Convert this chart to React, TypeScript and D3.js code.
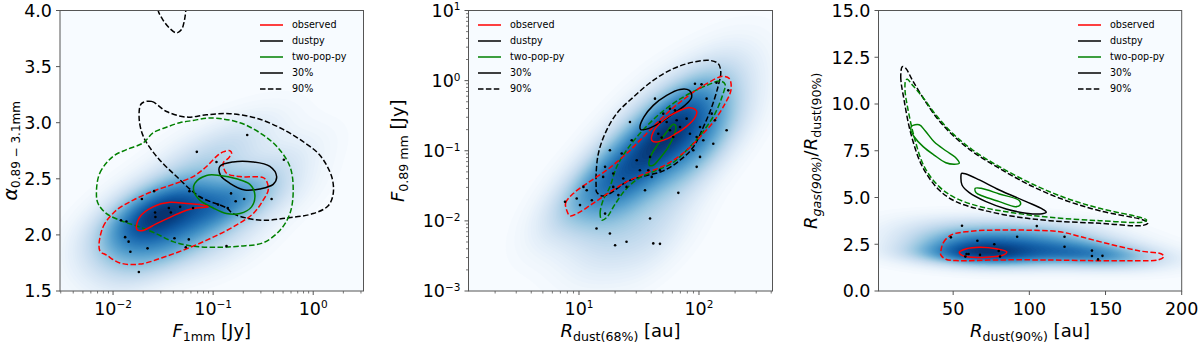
import { useMemo } from 'react';
import type { ReactNode } from 'react';
import * as d3 from 'd3';

type Pt = [number, number];

const FONT = "'DejaVu Sans', sans-serif";
const TOP = 10.5;
const BOTTOM = 291;

// legend entries, same in all three panels
const legendLabels = ['observed', 'dustpy', 'two-pop-py', '30%', '90%'];
const legendColors = ['red', 'black', 'green', 'black', 'black'];
const legendDashed = [false, false, false, false, true];

// ---------- left panel: spectral index vs F_1mm ----------
const alphaXTicks = [0.01, 0.1, 1];
const alphaYTicks = [1.5, 2.0, 2.5, 3.0, 3.5, 4.0];
const alphaPoints: Pt[] = [
  [0.0687, 2.74], [0.108, 2.65], [0.219, 2.89], [0.509, 2.67], [0.0257, 2.39],
  [0.0194, 2.32], [0.058, 2.39], [0.0361, 2.24], [0.0378, 2.2], [0.0263, 2.2],
  [0.0265, 2.16], [0.0468, 2.25], [0.063, 2.24], [0.151, 2.37], [0.168, 2.3],
  [0.204, 2.32], [0.384, 2.32], [0.112, 2.27], [0.14, 2.24], [0.012, 2.13],
  [0.0136, 2.12], [0.0132, 1.98], [0.0143, 1.94], [0.0149, 1.85], [0.0221, 1.88],
  [0.0411, 1.97], [0.0571, 1.96], [0.0533, 1.89], [0.136, 1.9], [0.0181, 1.67],
];
const alphaObs30: Pt[] = [
  [0.0171, 2.06], [0.0185, 2.16], [0.0251, 2.25], [0.0369, 2.29], [0.0542, 2.28],
  [0.0736, 2.27], [0.0891, 2.25], [0.0682, 2.24], [0.0542, 2.22], [0.0398, 2.17],
  [0.0272, 2.1], [0.02, 2.04], [0.0178, 2.04],
];
const alphaObs90: Pt[] = [
  [0.00736, 1.86], [0.00794, 2.07], [0.0108, 2.22], [0.0159, 2.31], [0.0251, 2.39],
  [0.0398, 2.45], [0.0631, 2.52], [0.0859, 2.61], [0.108, 2.7], [0.126, 2.74],
  [0.147, 2.75], [0.153, 2.73], [0.141, 2.68], [0.126, 2.64], [0.136, 2.55],
  [0.185, 2.52], [0.316, 2.51], [0.342, 2.48], [0.355, 2.4], [0.316, 2.31],
  [0.251, 2.19], [0.158, 2.07], [0.1, 1.98], [0.0631, 1.9], [0.0342, 1.81],
  [0.0185, 1.74], [0.0117, 1.75], [0.0086, 1.82],
];
const alphaDust30: Pt[] = [
  [0.1167, 2.61], [0.158, 2.65], [0.251, 2.65], [0.369, 2.61], [0.431, 2.52],
  [0.398, 2.45], [0.293, 2.41], [0.207, 2.4], [0.147, 2.46], [0.1186, 2.53],
];
const alphaDust90: Pt[] = [
  [0.0192, 3.17], [0.0242, 3.19], [0.0342, 3.1], [0.0542, 3.05], [0.0859, 3.07],
  [0.147, 3.08], [0.272, 3.04], [0.501, 2.94], [0.826, 2.82], [1.167, 2.71],
  [1.528, 2.52], [1.585, 2.37], [1.413, 2.26], [1.0, 2.19], [0.542, 2.15],
  [0.316, 2.13], [0.216, 2.15], [0.158, 2.19], [0.136, 2.24], [0.0736, 2.34],
  [0.0431, 2.52], [0.0272, 2.7], [0.02, 2.88], [0.0182, 3.05],
];
const alphaDust90Top: Pt[] = [
  [0.0275, 4.15], [0.0282, 4.0], [0.0316, 3.915], [0.0369, 3.84], [0.0431, 3.8],
  [0.0483, 3.83], [0.0513, 3.9], [0.0533, 4.0], [0.0545, 4.15],
];
const alphaTwo30: Pt[] = [
  [0.0656, 2.46], [0.0859, 2.53], [0.1167, 2.53], [0.171, 2.5], [0.233, 2.45],
  [0.261, 2.36], [0.242, 2.25], [0.185, 2.19], [0.136, 2.19], [0.1, 2.24],
  [0.0736, 2.31], [0.0641, 2.39],
];
const alphaTwo90: Pt[] = [
  [0.00682, 2.37], [0.00736, 2.55], [0.01, 2.7], [0.0136, 2.76], [0.02, 2.82],
  [0.0251, 2.91], [0.0342, 2.96], [0.0464, 3.0], [0.0631, 3.02], [0.0859, 3.04],
  [0.108, 3.04], [0.185, 3.0], [0.293, 2.91], [0.431, 2.79], [0.585, 2.61],
  [0.631, 2.4], [0.585, 2.19], [0.464, 2.04], [0.316, 1.93], [0.185, 1.9],
  [0.108, 1.89], [0.0631, 1.9], [0.0398, 1.94], [0.0272, 2.01], [0.0185, 2.07],
  [0.0126, 2.12], [0.0086, 2.19], [0.00708, 2.28],
];

// ---------- middle panel: F_0.89mm vs R_dust(68%) ----------
const sizeXTicks = [10, 100];
const sizeYTicks = [0.001, 0.01, 0.1, 1, 10];
const sizePoints: Pt[] = [
  [92.6, 0.904], [115.8, 0.553], [175.5, 0.727], [127.7, 0.338], [135.9, 0.272],
  [170, 0.196], [26.6, 0.257], [43, 0.553], [50.4, 0.338], [57.3, 0.398],
  [63.1, 0.377], [47.3, 0.257], [53.8, 0.257], [65.2, 0.272], [45.8, 0.175],
  [48.9, 0.154], [57.3, 0.196], [61.1, 0.157], [69.5, 0.218], [84.1, 0.175],
  [95.7, 0.157], [108.7, 0.141], [89.7, 0.1016], [102, 0.0817], [131.6, 0.126],
  [95.7, 0.0589], [18.1, 0.1016], [22.7, 0.0912], [27.5, 0.141], [30.3, 0.0733],
  [39.1, 0.0817], [16.5, 0.0589], [19.3, 0.0473], [15.9, 0.0424], [23.4, 0.0402],
  [32.2, 0.0528], [37.8, 0.0528], [40.4, 0.0424], [47.3, 0.0528], [24.9, 0.0305],
  [19.3, 0.0305], [21.3, 0.0233], [10.9, 0.0305], [11.6, 0.0274], [9.57, 0.0208],
  [10.2, 0.0168], [12.8, 0.0197], [7.65, 0.0187], [35.5, 0.0274], [67.3, 0.0251],
  [16.5, 0.0127], [14.0, 0.0078], [18.1, 0.0066], [39.1, 0.0108], [20, 0.0045],
  [24.9, 0.00504], [41.6, 0.00477], [47.3, 0.0047], [78.9, 0.287], [102, 0.218],
  [140, 0.933], [105, 0.885],
];
const sizeObs30: Pt[] = [
  [40.4, 0.141], [41.6, 0.185], [50.4, 0.272], [65.2, 0.357], [84.1, 0.412],
  [95.7, 0.365], [92.6, 0.297], [78.9, 0.223], [63.1, 0.172], [52.1, 0.144],
  [43.8, 0.133],
];
const sizeObs90: Pt[] = [
  [7.9, 0.0142], [7.74, 0.0181], [8.97, 0.0246], [11.6, 0.0341], [17, 0.0528],
  [24.9, 0.0912], [36.6, 0.176], [53.8, 0.339], [78.9, 0.583], [115.8, 0.904],
  [157, 1.15], [179, 1.07], [185, 0.743], [165, 0.47], [131.6, 0.257],
  [102, 0.157], [78.9, 0.1016], [53.8, 0.0643], [36.6, 0.0483], [24.9, 0.036],
  [17, 0.024], [12.8, 0.0173], [9.87, 0.013], [8.41, 0.0118],
];
const sizeDust30: Pt[] = [
  [32.2, 0.218], [34.8, 0.303], [41.6, 0.444], [53.8, 0.617], [69.5, 0.75],
  [83, 0.726], [86.9, 0.583], [76.4, 0.444], [61.1, 0.339], [47.3, 0.249],
  [37.8, 0.207], [32.7, 0.2],
];
const sizeDust90: Pt[] = [
  [14.0, 0.0259], [15.5, 0.0227], [18.1, 0.0246], [24.9, 0.036], [34.3, 0.0434],
  [50.4, 0.0516], [69.5, 0.0733], [89.7, 0.113], [108.7, 0.218], [127.7, 0.42],
  [145, 0.855], [152, 1.32], [145, 1.74], [123.5, 1.94], [89.7, 1.84],
  [61.1, 1.48], [41.6, 1.01], [28.4, 0.583], [20.6, 0.339], [16.5, 0.176],
  [14.5, 0.0912], [13.9, 0.0473], [13.9, 0.0305],
];
const sizeTwo30: Pt[] = [
  [38.5, 0.0622], [39.6, 0.0835], [45.8, 0.126], [53.8, 0.185], [61.1, 0.238],
  [64.3, 0.223], [61.9, 0.166], [55.5, 0.113], [48.2, 0.0817], [41.6, 0.0622],
];
const sizeTwo90: Pt[] = [
  [15.5, 0.01025], [15.0, 0.0128], [15.9, 0.0197], [18.1, 0.0305], [20.6, 0.0588],
  [24.9, 0.1016], [32.2, 0.176], [47.3, 0.339], [74, 0.583], [115.8, 0.855],
  [151.7, 0.986], [165, 0.885], [157, 0.617], [136, 0.339], [105, 0.176],
  [78.9, 0.1016], [59.2, 0.0657], [43, 0.0516], [31.2, 0.0402], [24.2, 0.0274],
  [20, 0.0173], [17, 0.0112],
];

// ---------- right panel: R_gas / R_dust vs R_dust(90%) ----------
const ratioXTicks = [50, 100, 150, 200];
const ratioYTicks = [0, 2.5, 5, 7.5, 10, 12.5, 15];
const ratioPoints: Pt[] = [
  [55.8, 3.49], [48.5, 2.87], [104.9, 3.47], [92, 2.9], [123.1, 2.9], [123.1, 2.37],
  [65.9, 2.69], [77, 2.5], [79.9, 2.14], [58.8, 1.98], [60.1, 1.98], [67.6, 1.93],
  [58, 1.84], [80.8, 1.84], [141.1, 2.16], [141.1, 1.87], [145.1, 1.69], [148, 1.88],
];
const ratioObs30: Pt[] = [
  [54, 2.07], [58.8, 2.26], [67.2, 2.34], [78.2, 2.26], [85.2, 2.09], [82.5, 1.91],
  [73.8, 1.82], [62.8, 1.8], [56.2, 1.89],
];
const ratioObs90: Pt[] = [
  [41.9, 2.1], [43.5, 2.58], [48.5, 2.99], [58.4, 3.17], [78.2, 3.26], [100.1, 3.25],
  [119.9, 3.17], [135.2, 2.87], [155, 2.46], [172.5, 2.14], [186.8, 1.98], [188.3, 1.84],
  [184.6, 1.66], [168.1, 1.62], [144, 1.62], [111.1, 1.66], [78.2, 1.66], [54, 1.62],
  [45.2, 1.7], [41.9, 1.93],
];
const ratioDust30: Pt[] = [
  [55.5, 6.29], [58.4, 6.26], [67.2, 5.94], [80.3, 5.4], [97.9, 4.78], [108.9, 4.37],
  [111.1, 4.22], [108.5, 4.13], [97.9, 4.16], [84.8, 4.39], [71.6, 4.78], [60.6, 5.26],
  [55.8, 5.67], [55.1, 6.11],
];
const ratioDust90: Pt[] = [
  [16.7, 12.0], [15.6, 11.46], [17.8, 10.21], [22.2, 8.43], [29.8, 6.65], [40.8, 5.4],
  [51.8, 4.78], [69.3, 4.33], [91.3, 3.97], [113.3, 3.76], [146.2, 3.62], [174.7, 3.51],
  [178, 3.65], [174.7, 3.8], [146.2, 4.29], [124.3, 4.83], [102.3, 5.58], [80.3, 6.56],
  [62.8, 7.45], [49.6, 8.34], [38.7, 9.32], [29.8, 10.39], [23.2, 11.28], [18.9, 11.91],
];
const ratioTwo30a: Pt[] = [
  [22.8, 8.82], [27.7, 8.89], [31.6, 8.57], [37.5, 7.98], [45.2, 7.5], [51.4, 7.15],
  [54, 6.83], [50.7, 6.78], [45.2, 6.86], [37.5, 7.27], [30.3, 7.72], [24.4, 8.25],
  [22.2, 8.61],
];
const ratioTwo30b: Pt[] = [
  [64.5, 5.49], [68.3, 5.49], [80.3, 5.19], [93.5, 4.83], [94, 4.6], [90.9, 4.51],
  [80.3, 4.78], [69.3, 5.08], [65, 5.26],
];
const ratioTwo90: Pt[] = [
  [18.9, 11.28], [18.4, 10.75], [20, 9.86], [24.4, 8.25], [31, 6.65], [40.8, 5.58],
  [51.8, 4.96], [69.3, 4.48], [91.3, 4.16], [113.3, 3.94], [146.2, 3.76], [174.7, 3.69],
  [177, 3.8], [172.5, 3.94], [146.2, 4.42], [124.3, 4.96], [102.3, 5.71], [80.3, 6.65],
  [62.8, 7.54], [49.6, 8.43], [38.7, 9.41], [29.8, 10.39], [23.2, 11.02], [20, 11.32],
];

type Scale = d3.ScaleContinuousNumeric<number, number>;

interface Contour {
  pts: Pt[];
  color: string;
  dashed: boolean;
  open?: boolean;
}

interface PanelProps {
  id: string;
  x: Scale;
  y: Scale;
  logX: boolean;
  logY: boolean;
  xTicks: number[];
  yTicks: number[];
  yFmt?: (v: number) => string;
  points: Pt[];
  contours: Contour[];
  legendX: number;
  bw: [number, number];
  xLabel: ReactNode;
  yLabel: ReactNode;
  yLabelX: number;
}

const sup = (v: number) => {
  const e = Math.round(Math.log10(v));
  return (
    <>
      <tspan>10</tspan>
      <tspan fontSize={10.5} dy={-6.6}>{e < 0 ? '\u2212' + -e : String(e)}</tspan>
    </>
  );
};

// Gaussian KDE (Scott factor, full covariance) evaluated in screen space
function densityBands(points: Pt[], x: Scale, y: Scale, bw: [number, number]) {
  const [x0, x1] = x.range();
  const P = points.map(p => [x(p[0]), y(p[1])]);
  const n = P.length;
  const mx = d3.mean(P, p => p[0])!;
  const my = d3.mean(P, p => p[1])!;
  let cxx = 0, cyy = 0, cxy = 0;
  for (const [a, b] of P) {
    cxx += (a - mx) ** 2;
    cyy += (b - my) ** 2;
    cxy += (a - mx) * (b - my);
  }
  const f2 = Math.pow(n, -1 / 3) / (n - 1);
  const A = cxx * f2 * bw[0] * bw[0];
  const D = cyy * f2 * bw[1] * bw[1];
  const B = cxy * f2 * bw[0] * bw[1];
  const det = A * D - B * B;
  const ia = D / det, id = A / det, ib = -B / det;

  const step = 2;
  const gx0 = x0 - 4, gy0 = TOP - 4;
  const nx = Math.ceil((x1 - x0 + 8) / step) + 1;
  const ny = Math.ceil((BOTTOM - TOP + 8) / step) + 1;
  const vals = new Array<number>(nx * ny);
  for (let j = 0; j < ny; j++) {
    for (let i = 0; i < nx; i++) {
      const px = gx0 + i * step, py = gy0 + j * step;
      let s = 0;
      for (const [a, b] of P) {
        const dx = px - a, dy = py - b;
        s += Math.exp(-0.5 * (ia * dx * dx + 2 * ib * dx * dy + id * dy * dy));
      }
      vals[j * nx + i] = s;
    }
  }
  const max = d3.max(vals)!;
  const levels = d3.range(1, 72).map(k => (max * k) / 72);
  const bands = d3.contours().size([nx, ny]).thresholds(levels)(vals);
  const path = d3.geoPath(
    d3.geoTransform({
      point(px: number, py: number) {
        this.stream.point(gx0 + (px - 0.5) * step, gy0 + (py - 0.5) * step);
      },
    }),
  );
  return bands.map(b => ({ d: path(b) ?? '', fill: d3.interpolateBlues(b.value / max) }));
}

function Panel(p: PanelProps) {
  const { x, y } = p;
  const [x0, x1] = x.range();
  const bands = useMemo(() => densityBands(p.points, x, y, p.bw), [p.points, x, y, p.bw]);

  const xMinor = p.logX ? (x.ticks() as number[]).filter(t => !p.xTicks.some(m => Math.abs(m - t) < 1e-9 * m)) : [];
  const yMinor = p.logY ? (y.ticks() as number[]).filter(t => !p.yTicks.some(m => Math.abs(m - t) < 1e-9 * m)) : [];

  const closed = d3.line<Pt>().x(d => x(d[0])).y(d => y(d[1])).curve(d3.curveCatmullRomClosed.alpha(0.5));
  const open = d3.line<Pt>().x(d => x(d[0])).y(d => y(d[1])).curve(d3.curveCatmullRom.alpha(0.5));
  const spine = '#555';

  return (
    <g>
      <defs>
        <clipPath id={p.id}>
          <rect x={x0} y={TOP} width={x1 - x0} height={BOTTOM - TOP} />
        </clipPath>
      </defs>
      <g clipPath={`url(#${p.id})`}>
        <rect x={x0} y={TOP} width={x1 - x0} height={BOTTOM - TOP} fill={d3.interpolateBlues(0)} />
        {bands.map((b, i) => (
          <path key={i} d={b.d} fill={b.fill} />
        ))}
        {p.contours.map((c, i) => (
          <path
            key={i}
            d={(c.open ? open : closed)(c.pts) ?? ''}
            fill="none"
            stroke={c.color}
            strokeWidth={1.5}
            strokeDasharray={c.dashed ? '5.5,2.4' : undefined}
          />
        ))}
        {p.points.map((d, i) => (
          <circle key={i} cx={x(d[0])} cy={y(d[1])} r={1.3} fill="black" />
        ))}
      </g>
      <rect x={x0} y={TOP} width={x1 - x0} height={BOTTOM - TOP} fill="none" stroke={spine} strokeWidth={1} />

      {/* x axis */}
      {p.xTicks.map(t => (
        <g key={t}>
          <line x1={x(t)} x2={x(t)} y1={BOTTOM} y2={BOTTOM + 4} stroke={spine} />
          <text x={x(t)} y={315} textAnchor="middle" fontSize={17.5} fontFamily={FONT}>
            {p.logX ? sup(t) : String(t)}
          </text>
        </g>
      ))}
      {xMinor.map(t => (
        <line key={t} x1={x(t)} x2={x(t)} y1={BOTTOM} y2={BOTTOM + 2.5} stroke={spine} strokeWidth={0.8} />
      ))}

      {/* y axis */}
      {p.yTicks.map(t => (
        <g key={t}>
          <line x1={x0 - 4} x2={x0} y1={y(t)} y2={y(t)} stroke={spine} />
          <text x={x0 - 8} y={y(t)} dy="0.37em" textAnchor="end" fontSize={17.5} fontFamily={FONT}>
            {p.logY ? sup(t) : p.yFmt ? p.yFmt(t) : String(t)}
          </text>
        </g>
      ))}
      {yMinor.map(t => (
        <line key={t} x1={x0 - 2.5} x2={x0} y1={y(t)} y2={y(t)} stroke={spine} strokeWidth={0.8} />
      ))}

      <text x={(x0 + x1) / 2} y={337} textAnchor="middle" fontSize={18} fontFamily={FONT}>
        {p.xLabel}
      </text>
      <text
        transform={`translate(${p.yLabelX},${(TOP + BOTTOM) / 2}) rotate(-90)`}
        textAnchor="middle"
        fontSize={18}
        fontFamily={FONT}
      >
        {p.yLabel}
      </text>

      {/* legend */}
      {legendLabels.map((lab, i) => {
        const ly = 25 + i * 16;
        return (
          <g key={lab}>
            <line
              x1={p.legendX}
              x2={p.legendX + 23}
              y1={ly}
              y2={ly}
              stroke={legendColors[i]}
              strokeWidth={1.5}
              strokeDasharray={legendDashed[i] ? '5.5,2.4' : undefined}
            />
            <text x={p.legendX + 32} y={ly} dy="0.35em" fontSize={9.6} fontFamily={FONT}>
              {lab}
            </text>
          </g>
        );
      })}
    </g>
  );
}

const alphaBw: [number, number] = [1.2, 1.2];
const sizeBw: [number, number] = [1.35, 1.35];
const ratioBw: [number, number] = [1.4, 1.3];

export default function App() {
  const alphaX = d3.scaleLog().domain([0.00295, 3.18]).range([60, 363.5]);
  const alphaY = d3.scaleLinear().domain([1.5, 4]).range([BOTTOM, TOP]);
  const sizeX = d3.scaleLog().domain([1.2, 410]).range([468.5, 772.5]);
  const sizeY = d3.scaleLog().domain([0.001, 10]).range([BOTTOM, TOP]);
  const ratioX = d3.scaleLinear().domain([1, 200]).range([878.5, 1181.7]);
  const ratioY = d3.scaleLinear().domain([0, 15]).range([BOTTOM, TOP]);
  const f1 = d3.format('.1f');

  return (
    <svg
      width={1200}
      height={343}
      style={{ position: 'absolute', left: 0, top: 0, background: 'white' }}
    >
      <Panel
        id="clip-a"
        x={alphaX}
        y={alphaY}
        logX
        logY={false}
        xTicks={alphaXTicks}
        yTicks={alphaYTicks}
        yFmt={f1}
        points={alphaPoints}
        bw={alphaBw}
        legendX={260}
        contours={[
          { pts: alphaDust90, color: 'black', dashed: true },
          { pts: alphaDust90Top, color: 'black', dashed: true, open: true },
          { pts: alphaTwo90, color: 'green', dashed: true },
          { pts: alphaObs90, color: 'red', dashed: true },
          { pts: alphaDust30, color: 'black', dashed: false },
          { pts: alphaTwo30, color: 'green', dashed: false },
          { pts: alphaObs30, color: 'red', dashed: false },
        ]}
        xLabel={
          <>
            <tspan fontStyle="italic">F</tspan>
            <tspan fontSize={12.6} dy={4}>1mm</tspan>
            <tspan dy={-4}> [Jy]</tspan>
          </>
        }
        yLabel={
          <>
            <tspan fontStyle="italic" fontSize={19}>α</tspan>
            <tspan fontSize={12} dy={3}>0.89 − 3.1mm</tspan>
          </>
        }
        yLabelX={17}
      />
      <Panel
        id="clip-b"
        x={sizeX}
        y={sizeY}
        logX
        logY
        xTicks={sizeXTicks}
        yTicks={sizeYTicks}
        points={sizePoints}
        bw={sizeBw}
        legendX={478}
        contours={[
          { pts: sizeDust90, color: 'black', dashed: true },
          { pts: sizeTwo90, color: 'green', dashed: true },
          { pts: sizeObs90, color: 'red', dashed: true },
          { pts: sizeDust30, color: 'black', dashed: false },
          { pts: sizeTwo30, color: 'green', dashed: false },
          { pts: sizeObs30, color: 'red', dashed: false },
        ]}
        xLabel={
          <>
            <tspan fontStyle="italic">R</tspan>
            <tspan fontSize={12.6} dy={4}>dust(68%)</tspan>
            <tspan dy={-4}> [au]</tspan>
          </>
        }
        yLabel={
          <>
            <tspan fontStyle="italic">F</tspan>
            <tspan fontSize={12.6} dy={4}>0.89 mm</tspan>
            <tspan dy={-4}> [Jy]</tspan>
          </>
        }
        yLabelX={404}
      />
      <Panel
        id="clip-c"
        x={ratioX}
        y={ratioY}
        logX={false}
        logY={false}
        xTicks={ratioXTicks}
        yTicks={ratioYTicks}
        yFmt={f1}
        points={ratioPoints}
        bw={ratioBw}
        legendX={1078}
        contours={[
          { pts: ratioDust90, color: 'black', dashed: true },
          { pts: ratioTwo90, color: 'green', dashed: true },
          { pts: ratioObs90, color: 'red', dashed: true },
          { pts: ratioDust30, color: 'black', dashed: false },
          { pts: ratioTwo30a, color: 'green', dashed: false },
          { pts: ratioTwo30b, color: 'green', dashed: false },
          { pts: ratioObs30, color: 'red', dashed: false },
        ]}
        xLabel={
          <>
            <tspan fontStyle="italic">R</tspan>
            <tspan fontSize={12.6} dy={4}>dust(90%)</tspan>
            <tspan dy={-4}> [au]</tspan>
          </>
        }
        yLabel={
          <>
            <tspan fontStyle="italic">R</tspan>
            <tspan fontStyle="italic" fontSize={12.6} dy={4}>gas(90%)</tspan>
            <tspan dy={-4}>/</tspan>
            <tspan fontStyle="italic">R</tspan>
            <tspan fontSize={12.6} dy={4}>dust(90%)</tspan>
          </>
        }
        yLabelX={817}
      />
    </svg>
  );
}
